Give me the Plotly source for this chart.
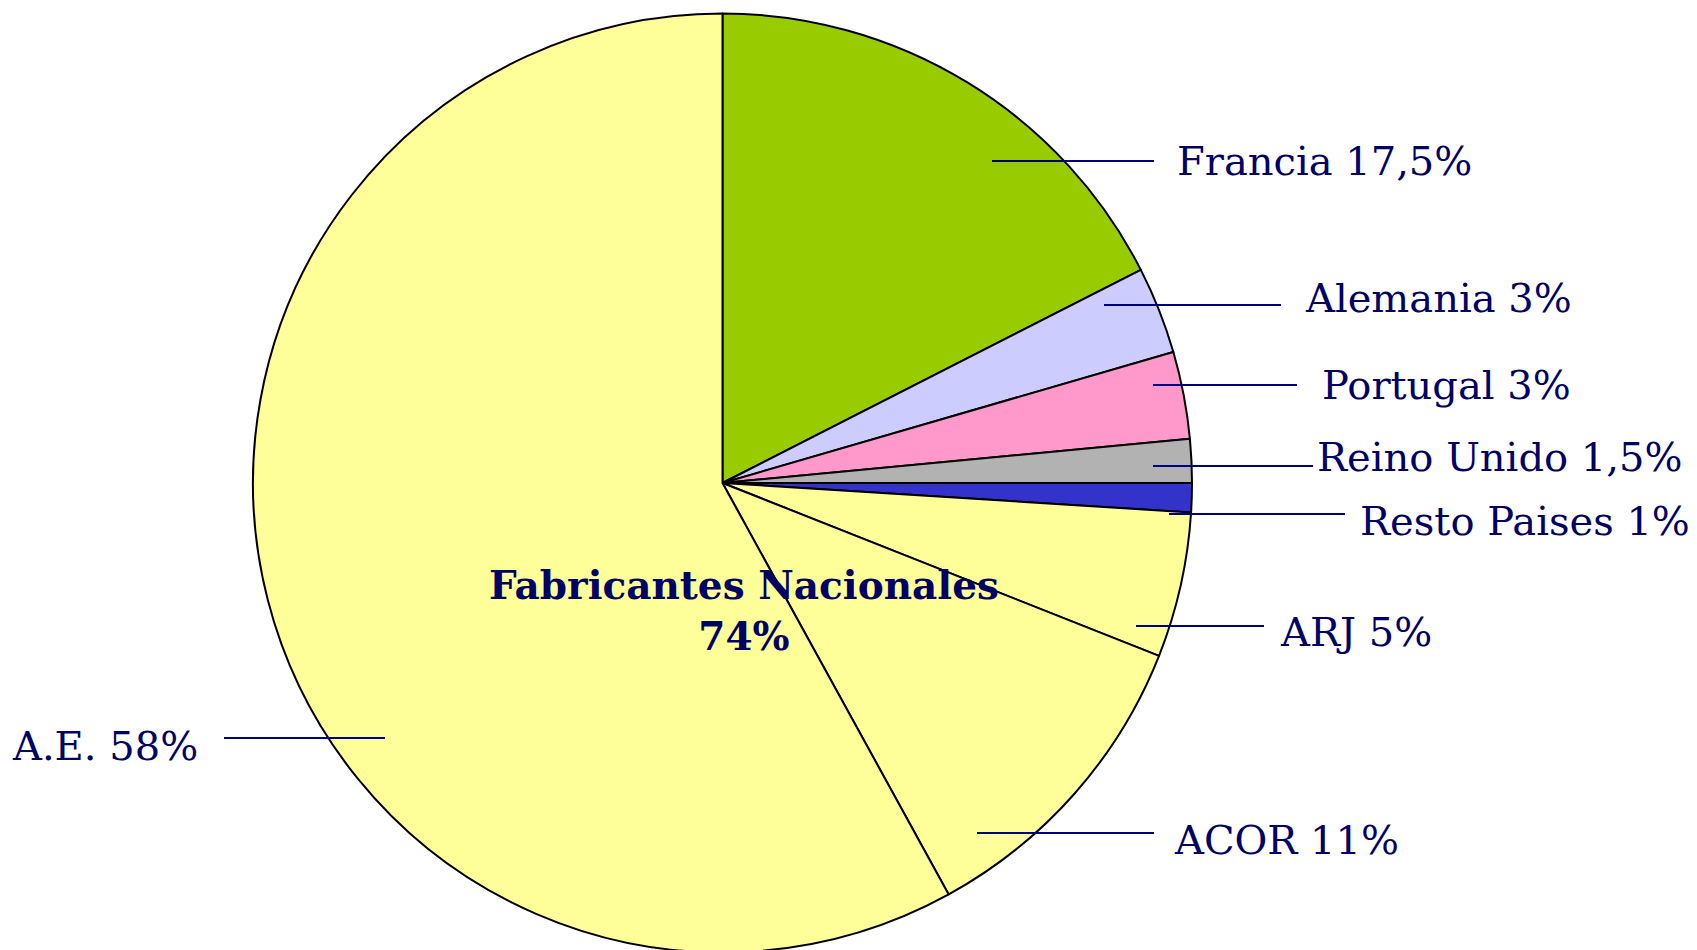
import plotly.graph_objects as go

W, H = 1697, 950
PAGE_OFFSET = 8  # default body margin of the html page

# slice data, clockwise from 12 o'clock
labels = ["Francia", "Alemania", "Portugal", "Reino Unido", "Resto Paises", "ARJ", "ACOR", "A.E."]
values = [17.5, 3, 3, 1.5, 1, 5, 11, 58]
value_text = ["17,5%", "3%", "3%", "1,5%", "1%", "5%", "11%", "58%"]
colors = ["#99CC00", "#CCCCFF", "#FF99CC", "#B2B2B2", "#3333CC", "#FFFF99", "#FFFF99", "#FFFF99"]

group_label = "Fabricantes Nacionales"
group_value = "74%"

TEXT_COLOR = "#000066"
LINE_COLOR = "#000080"
FONT = "DejaVu Serif"

# label placement (screen pixels): text anchor x, text y, leader line x0, x1, y, anchor side
label_pos = [
    (1175, 161, 992, 1154, 161, "left"),
    (1303, 298, 1104, 1281, 305, "left"),
    (1320, 385, 1153, 1297, 385, "left"),
    (1315, 457, 1153, 1313, 466, "left"),
    (1358, 521, 1169, 1345, 514, "left"),
    (1278, 632, 1136, 1264, 626, "left"),
    (1172, 840, 977, 1154, 833, "left"),
    (200, 746, 224, 385, 738, "right"),
]


def px(x):
    return (x - PAGE_OFFSET) / W


def py(y):
    return 1 - (y - PAGE_OFFSET) / H


cx, cy, r = 722.5, 483, 469.5
fig = go.Figure(go.Pie(
    labels=labels,
    values=values,
    sort=False,
    direction="clockwise",
    rotation=0,
    textinfo="none",
    hoverinfo="label+percent",
    marker=dict(colors=colors, line=dict(color="#000000", width=2)),
    domain=dict(x=[px(cx - r), px(cx + r)], y=[py(cy + r), py(cy - r)]),
    showlegend=False,
))

for lab, vt, (tx, ty, lx0, lx1, ly, side) in zip(labels, value_text, label_pos):
    fig.add_shape(type="line", xref="paper", yref="paper",
                  x0=px(lx0), x1=px(lx1), y0=py(ly), y1=py(ly),
                  line=dict(color=LINE_COLOR, width=2))
    fig.add_annotation(xref="paper", yref="paper", x=px(tx), y=py(ty),
                       text=f"{lab} {vt}", showarrow=False,
                       xanchor=side, yanchor="middle",
                       font=dict(family=FONT, size=40, color=TEXT_COLOR))

fig.add_annotation(xref="paper", yref="paper", x=px(744), y=py(610),
                   text=f"<b>{group_label}<br>{group_value}</b>", showarrow=False,
                   xanchor="center", yanchor="middle",
                   font=dict(family=FONT, size=39, color=TEXT_COLOR))

fig.update_layout(
    width=W, height=H,
    margin=dict(l=0, r=0, t=0, b=0),
    paper_bgcolor="#FFFFFF",
    plot_bgcolor="#FFFFFF",
)

fig.write_html("out.html")
